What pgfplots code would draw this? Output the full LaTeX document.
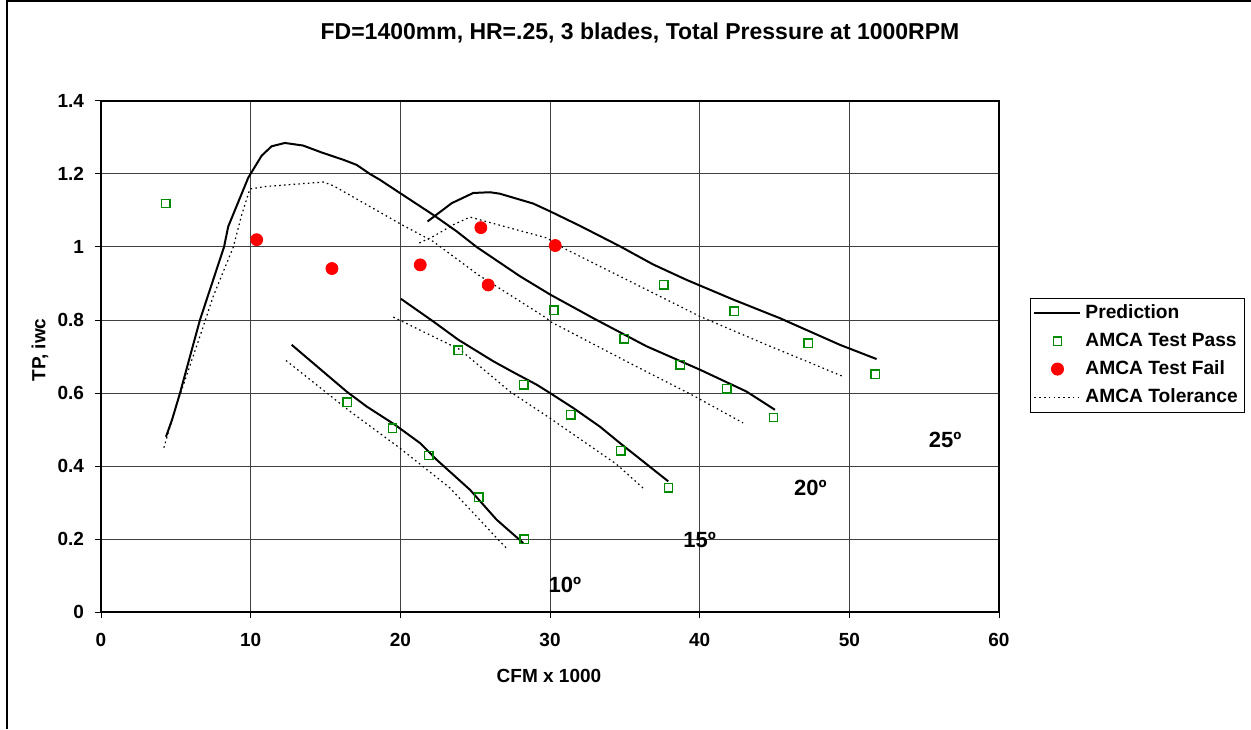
\documentclass[border=0pt]{standalone}
\usepackage{pgfplots}
\pgfplotsset{compat=1.18}
\usepackage{fontspec}
\setmainfont{Liberation Sans}
\definecolor{passgreen}{RGB}{0,140,0}
\pgfplotsset{
  mylegline/.style={legend image code/.code={\draw[##1] (0pt,0pt) -- (23pt,0pt);}},
  mylegmark/.style={legend image code/.code={\draw[##1] plot coordinates {(11.5pt,0pt)};}},
}
\begin{document}
\begin{tikzpicture}[x=1pt,y=1pt]
\path (0,0) rectangle (625.5,364.5);
\draw[line width=0.6pt] (3.5,0) -- (3.5,364) -- (625.5,364);
\node[font=\bfseries\fontsize{11.5}{13}\selectfont] at (320,348) {FD=1400mm, HR=.25, 3 blades, Total Pressure at 1000RPM};
\node[font=\bfseries\fontsize{9.5}{11}\selectfont, rotate=90] at (20,189.5) {TP, iwc};
\node[font=\bfseries\fontsize{9.5}{11}\selectfont] at (274.5,26.5) {CFM x 1000};
\begin{axis}[
  at={(50.5pt,58.5pt)}, anchor=south west,
  scale only axis, width=449pt, height=255.5pt,
  xmin=0, xmax=60, ymin=0, ymax=1.4,
  xtick={0,10,20,30,40,50,60},
  ytick={0,0.2,0.4,0.6,0.8,1,1.2,1.4},
  grid=major, grid style={black!75, line width=0.5pt},
  axis line style={black, line width=0.6pt},
  tick style={black, line width=0.5pt},
  tick align=outside, major tick length=3pt,
  xtick pos=bottom, ytick pos=left,
  /pgf/number format/assume math mode=true,
  ticklabel style={font=\bfseries\fontsize{9.5}{11}\selectfont},
  xticklabel style={yshift=-4pt},
  yticklabel style={xshift=-2pt},
  legend style={at={(1.0345,0.6145)}, anchor=north west, draw=black, line width=0.5pt,
    font=\bfseries\fontsize{9.6}{11.5}\selectfont, row sep=1.6pt, inner xsep=1.5pt, inner ysep=1.2pt},
  legend cell align=left,
  clip=false,
]
% Prediction curves
\addplot[black, line width=1pt, mylegline] coordinates {
(4.34,0.48) (4.75,0.527) (5.28,0.6) (6.61,0.8) (8.22,1.0) (8.5,1.056) (9.84,1.19) (10.73,1.25) (11.4,1.276) (12.29,1.285) (13.5,1.278) (14.74,1.259) (16.19,1.239) (17.08,1.225) (17.97,1.2) (18.64,1.184) (19.97,1.148) (22.2,1.088) (23.76,1.043) (25.1,1.0) (27.99,0.92) (30,0.87) (32.89,0.805) (36.45,0.728) (40.01,0.664) (43.13,0.604) (45.03,0.554)};
\addlegendentry{Prediction}
\addplot[black, line width=1pt, forget plot] coordinates {
(21.82,1.07) (23.43,1.12) (24.87,1.148) (25.99,1.15) (26.65,1.146) (28.88,1.119) (29.99,1.098) (32,1.058) (34.67,1.002) (36.9,0.952) (39.12,0.91) (42.24,0.856) (45.36,0.805) (49.37,0.732) (51.82,0.693)};
\addplot[black, line width=1pt, forget plot] coordinates {
(20.04,0.858) (22.2,0.796) (23.87,0.746) (26.21,0.687) (27.54,0.657) (29.1,0.623) (30,0.6) (31.55,0.559) (33.33,0.508) (34.67,0.463) (37.9,0.358)};
\addplot[black, line width=1pt, forget plot] coordinates {
(12.74,0.732) (16.41,0.604) (17.75,0.563) (19.64,0.513) (21.31,0.463) (22.43,0.417) (24.65,0.335) (26.43,0.253) (28.21,0.189)};
% Tolerance (drawn before markers)
\addplot[black, line width=0.6pt, dash pattern=on 0.8pt off 1.6pt, forget plot] coordinates {
(4.2,0.45) (4.94,0.554) (6.83,0.782) (7.5,0.865) (8.84,1.0) (9.4,1.088) (9.95,1.159) (11.07,1.166) (13.29,1.173) (14.85,1.178) (15.52,1.168) (19.97,1.064) (22.2,1.015) (25.2,0.924) (29.77,0.805) (30,0.796) (35.56,0.677) (39.57,0.593) (42.9,0.518)};
\addplot[black, line width=0.6pt, dash pattern=on 0.8pt off 1.6pt, forget plot] coordinates {
(21.27,1.011) (22.2,1.029) (23.54,1.061) (24.65,1.082) (25.99,1.067) (29.77,1.025) (31.1,0.993) (34.22,0.929) (40.01,0.81) (44.47,0.732) (47.14,0.687) (49.59,0.645)};
\addplot[black, line width=0.6pt, dash pattern=on 0.8pt off 1.6pt, forget plot] coordinates {
(19.53,0.808) (23.98,0.719) (27.32,0.604) (30,0.531) (34.44,0.405) (36.34,0.335)};
\addplot[black, line width=0.6pt, dash pattern=on 0.8pt off 1.6pt, forget plot] coordinates {
(12.36,0.689) (16.63,0.55) (19.97,0.449) (23.31,0.34) (26.43,0.203) (27.09,0.175)};
% Pass
\addplot[color=passgreen, only marks, mark=square, mark size=2.1pt, mark options={draw=passgreen, line width=0.7pt}, mylegmark] coordinates {
(4.34,1.119) (16.45,0.575) (19.48,0.504) (21.89,0.429) (25.24,0.315) (28.28,0.2)
(23.87,0.717) (28.26,0.622) (31.39,0.54) (34.72,0.442) (37.92,0.34)
(30.26,0.827) (34.96,0.749) (38.7,0.677) (41.82,0.612) (44.93,0.533)
(37.59,0.896) (42.3,0.824) (47.25,0.736) (51.73,0.651)};
\addlegendentry{AMCA Test Pass}
% Fail
\addplot[color=red, only marks, mark=*, mark size=3pt, mark options={draw=red, fill=red}, mylegmark] coordinates {
(10.4,1.02) (15.43,0.941) (21.33,0.951) (25.38,1.053) (25.87,0.896) (30.35,1.004)};
\addlegendentry{AMCA Test Fail}
\addlegendimage{black, line width=0.6pt, dash pattern=on 0.8pt off 1.6pt, mylegline}
\addlegendentry{AMCA Tolerance}
\draw[black, line width=1.1pt] (axis cs:0,0) -- (axis cs:60,0);
% angle labels
\node[font=\bfseries\fontsize{11}{13}\selectfont] at (axis cs:56.4,0.472) {25º};
\node[font=\bfseries\fontsize{11}{13}\selectfont] at (axis cs:47.4,0.341) {20º};
\node[font=\bfseries\fontsize{11}{13}\selectfont] at (axis cs:40.0,0.198) {15º};
\node[font=\bfseries\fontsize{11}{13}\selectfont] at (axis cs:31.0,0.075) {10º};
\end{axis}
\pgfresetboundingbox
\path (0,0) rectangle (625.5,364.5);
\end{tikzpicture}
\end{document}
